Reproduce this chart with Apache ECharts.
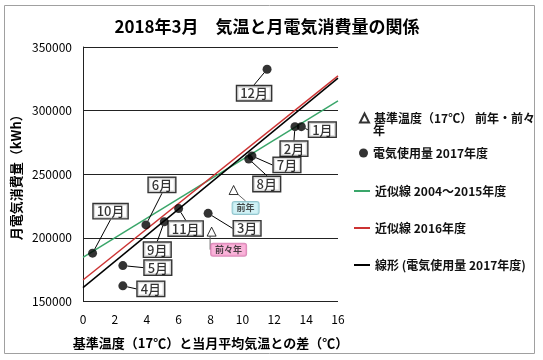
<!DOCTYPE html>
<html><head><meta charset="utf-8">
<script src="https://cdn.jsdelivr.net/npm/echarts@6/dist/echarts.min.js"></script>
<style>html,body{margin:0;padding:0;background:#fff}#c{width:543px;height:360px}</style>
</head><body><div id="c"></div>
<script>
// ---- data ----
const months = ['4月','5月','6月','7月','8月','9月','10月','11月','12月','1月','2月','3月'];
const tempDiff = [2.5, 2.5, 3.95, 10.6, 10.4, 5.1, 0.6, 6.0, 11.55, 13.7, 13.3, 7.85];
const usage2017 = [162300, 178200, 210200, 264400, 262000, 212700, 188000, 223000, 332500, 287400, 287400, 219300];
const refNames = ['前年','前々年'];
const refTemp = [9.45, 8.07];
const refUsage = [237600, 204900];
const trendX = [0, 16];
const trendGreen = [184700, 307600];
const trendRed = [166900, 327300];
const trendBlack = [160900, 325500];
const xTicks = [0, 2, 4, 6, 8, 10, 12, 14, 16];
const yTicks = [150000, 200000, 250000, 300000, 350000];

// ---- label offsets (px), styling only ----
const monthLabelOffsets = [[28,3],[35,2],[16,-40],[35,9],[18,25],[-7,28],[18,-42],[7,20],[-13,24],[21,3],[-1,22],[39,15]];
const refLabelOffsets = [[12,18],[17,18]];
const refLabelColors = [['#c4eef3','#7ab8c2'],['#f7a0d0','#d070a8']];

const FONT = '"Noto Sans CJK JP", "Noto Sans", sans-serif';
const chart = echarts.init(document.getElementById('c'));

const nameGreen = '近似線 2004～2015年度';
const nameRed = '近似線 2016年度';
const nameBlack = '線形 (電気使用量 2017年度)';
const nameRef = '基準温度（17℃） 前年・前々年';
const nameUse = '電気使用量 2017年度';

function legendAt(name, left, top, w, h, icon, fmt) {
  const item = icon ? {name: name, icon: icon} : {name: name};
  return {
    data: [item], left: left, top: top, padding: 0, itemWidth: w, itemHeight: h,
    selectedMode: false, orient: 'vertical',
    textStyle: {fontFamily: FONT, fontSize: 12, fontWeight: 'bold', color: '#111'},
    formatter: fmt || undefined
  };
}

chart.setOption({
  animation: false,
  textStyle: {fontFamily: FONT},
  title: {
    text: '2018年3月　気温と月電気消費量の関係',
    left: 262, top: 13, textAlign: 'center',
    textStyle: {fontFamily: FONT, fontSize: 17, fontWeight: 'bold', color: '#000'}
  },
  graphic: [
    {type: 'rect', shape: {x: 4.5, y: 5.5, width: 530, height: 348}, style: {fill: 'none', stroke: '#a0a0a0', lineWidth: 1}, z: -1},
    {type: 'text', left: 373, top: 124, style: {text: '年', fontFamily: FONT, fontSize: 12, fontWeight: 'bold', fill: '#111'}}
  ],
  legend: [
    legendAt(nameRef, 359, 112, 9, 9, null, function(n){ return n.slice(0, -1); }),
    legendAt(nameUse, 359, 147, 9, 9),
    legendAt(nameGreen, 354, 185, 16, 2, 'rect'),
    legendAt(nameRed, 354, 222, 16, 2, 'rect'),
    legendAt(nameBlack, 354, 259, 16, 2, 'rect')
  ],
  grid: {left: 83, right: 205, top: 47, bottom: 58.5},
  xAxis: {
    type: 'value', min: xTicks[0], max: xTicks[xTicks.length - 1], interval: 2,
    name: '基準温度（17℃）と当月平均気温との差（℃）',
    nameLocation: 'middle', nameGap: 35,
    nameTextStyle: {fontFamily: FONT, fontSize: 13, fontWeight: 'bold', color: '#000'},
    axisLine: {show: false}, axisTick: {show: false}, splitLine: {show: false},
    axisLabel: {margin: 12, fontSize: 12, color: '#000', fontFamily: FONT}
  },
  yAxis: {
    type: 'value', min: yTicks[0], max: yTicks[yTicks.length - 1], interval: 50000,
    name: '月電気消費量（kWh）',
    nameLocation: 'middle', nameGap: 60,
    nameTextStyle: {fontFamily: FONT, fontSize: 13, fontWeight: 'bold', color: '#000'},
    axisLine: {show: true, lineStyle: {color: '#222', width: 1}},
    axisTick: {show: false},
    splitLine: {show: true, lineStyle: {color: '#222', width: 1}},
    axisLabel: {margin: 11, fontSize: 12, color: '#000', fontFamily: FONT, formatter: v => String(v)}
  },
  series: [
    {
      name: nameGreen, type: 'line', symbol: 'none', z: 2,
      data: trendX.map((x, i) => [x, trendGreen[i]]),
      lineStyle: {color: '#3aa66a', width: 1.5}, itemStyle: {color: '#3aa66a'}
    },
    {
      name: nameRed, type: 'line', symbol: 'none', z: 2,
      data: trendX.map((x, i) => [x, trendRed[i]]),
      lineStyle: {color: '#cc3333', width: 1.5}, itemStyle: {color: '#cc3333'}
    },
    {
      name: nameBlack, type: 'line', symbol: 'none', z: 2,
      data: trendX.map((x, i) => [x, trendBlack[i]]),
      lineStyle: {color: '#000', width: 1.5}, itemStyle: {color: '#000'}
    },
    {
      name: nameRef, type: 'scatter', symbol: 'triangle', symbolSize: 9, z: 3,
      itemStyle: {color: '#fff', borderColor: '#000', borderWidth: 1},
      data: refTemp.map((x, i) => ({
        value: [x, refUsage[i]], name: refNames[i],
        label: {backgroundColor: refLabelColors[i][0], borderColor: refLabelColors[i][1]}
      })),
      label: {
        show: true, position: 'inside', formatter: p => p.name,
        fontSize: 9, fontWeight: 'bold', color: '#222', padding: [2, 4, 1, 4], borderRadius: 2,
        borderWidth: 1
      },
      labelLine: {show: true, lineStyle: {color: '#666', width: 1}},
      labelLayout: p => ({dx: refLabelOffsets[p.dataIndex][0], dy: refLabelOffsets[p.dataIndex][1]}),
      emphasis: {disabled: true}
    },
    {
      name: nameUse, type: 'scatter', symbol: 'circle', symbolSize: 9, z: 4,
      itemStyle: {color: '#000'},
      data: tempDiff.map((x, i) => ({value: [x, usage2017[i]], name: months[i]})),
      label: {
        show: true, position: 'inside', formatter: p => p.name,
        fontSize: 13, fontWeight: 500, color: '#000', padding: [1, 3, 0, 3],
        backgroundColor: '#fff', borderColor: '#000', borderWidth: 1.4
      },
      labelLine: {show: true, lineStyle: {color: '#000', width: 1}},
      labelLayout: p => ({dx: monthLabelOffsets[p.dataIndex][0], dy: monthLabelOffsets[p.dataIndex][1]}),
      emphasis: {disabled: true}
    }
  ]
});
</script>
</body></html>
